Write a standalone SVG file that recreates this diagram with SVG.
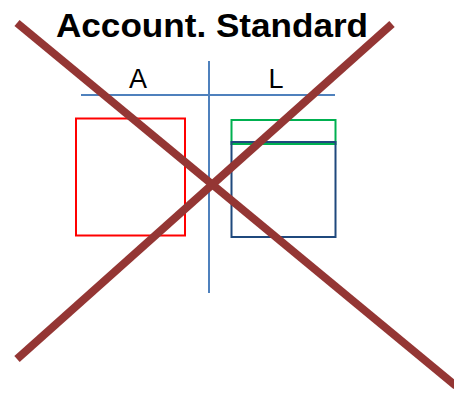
<svg xmlns="http://www.w3.org/2000/svg" width="454" height="395" viewBox="0 0 454 395">
<style>
.t{font-family:"Liberation Sans",Arial,sans-serif;fill:#000}
.ax{stroke:#4F81BD;stroke-width:2;fill:none}
.x{stroke:#943634;stroke-width:8;fill:none}
</style>
<rect width="454" height="395" fill="#fff"/>
<g id="title"><text class="t" x="56" y="37" font-size="33" font-weight="bold" textLength="312" lengthAdjust="spacingAndGlyphs">Account. Standard</text></g>
<g id="taccount">
<line class="ax" x1="81" y1="95" x2="335" y2="95"/>
<line class="ax" x1="209" y1="61" x2="209" y2="293"/>
<text class="t" x="138" y="88" font-size="27" text-anchor="middle">A</text>
<text class="t" x="276" y="88" font-size="27" text-anchor="middle">L</text>
</g>
<g id="assets"><rect x="76" y="118.5" width="109" height="117" fill="none" stroke="#FF0000" stroke-width="2"/></g>
<g id="liab-top"><rect x="231.5" y="120" width="104" height="24" fill="none" stroke="#00B050" stroke-width="2"/></g>
<g id="liab"><rect x="231.5" y="142" width="104" height="95" fill="none" stroke="#1F497D" stroke-width="2"/></g>
<g id="cross">
<line class="x" x1="17" y1="23" x2="456" y2="386"/>
<line class="x" x1="392" y1="24" x2="17" y2="359"/>
</g>
</svg>
